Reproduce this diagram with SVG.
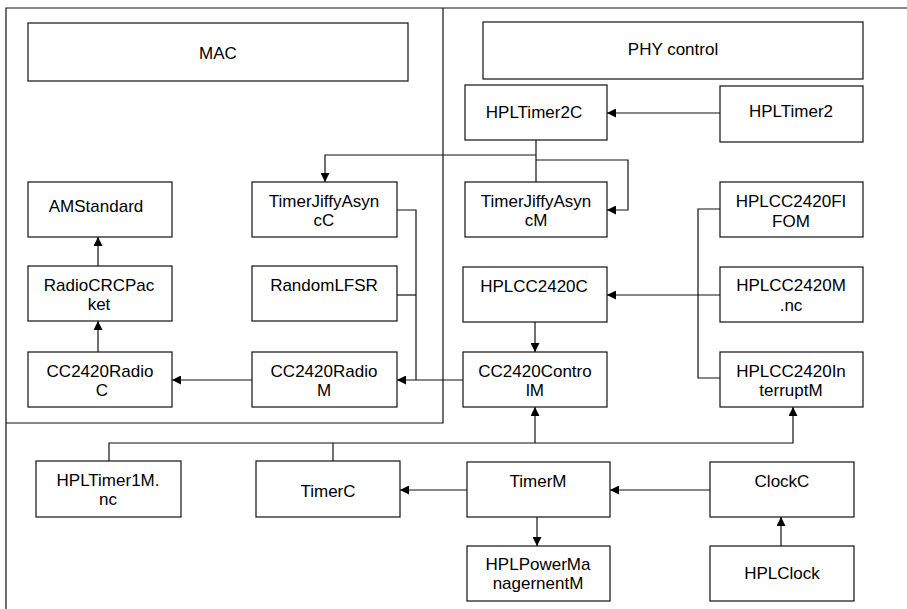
<svg xmlns="http://www.w3.org/2000/svg" width="907" height="609" viewBox="0 0 907 609">
<defs>
<marker id="ah" markerWidth="9" markerHeight="9" refX="9" refY="4.5" orient="auto" markerUnits="userSpaceOnUse">
<path d="M0,0 L9,4.5 L0,9 Z" fill="#000"/>
</marker>
<style>
.b{fill:#fff;stroke:#111;stroke-width:1.2}
.t{font-family:"Liberation Sans",Arial,sans-serif;font-size:17px;fill:#000;text-anchor:middle}
.c{fill:none;stroke:#111;stroke-width:1.2}
.a{fill:none;stroke:#111;stroke-width:1.2;marker-end:url(#ah)}
.f{fill:none;stroke:#111;stroke-width:1.2}
</style>
</defs>
<rect width="907" height="609" fill="#fff"/>
<g id="frames">
<path class="f" d="M6,609 V8 H907"/>
<path class="f" d="M6,423 H443 V8"/>
</g>
<g id="connectors">
<path class="a" d="M720,113 H607"/>
<path class="c" d="M536,140 V182"/>
<path class="a" d="M536,155 H325 V182"/>
<path class="a" d="M536,160 H628 V210 H607"/>
<path class="c" d="M720,209 H698 V378 H720"/>
<path class="a" d="M720,295 H607"/>
<path class="a" d="M535,322 V352"/>
<path class="c" d="M397,210 H416 V380"/>
<path class="c" d="M397,295 H416"/>
<path class="a" d="M463,380 H397"/>
<path class="a" d="M252,380 H172"/>
<path class="a" d="M98,352 V321"/>
<path class="a" d="M98,266 V237"/>
<path class="a" d="M109,461 V443 H793 V407"/>
<path class="c" d="M333,461 V443"/>
<path class="a" d="M535,443 V407"/>
<path class="a" d="M467,490 H400"/>
<path class="a" d="M710,490 H610"/>
<path class="a" d="M537,517 V546"/>
<path class="a" d="M781,546 V517"/>
</g>
<g id="mac"><rect class="b" x="28" y="23" width="380" height="58"/><text class="t" x="218" y="59">MAC</text></g>
<g id="phy"><rect class="b" x="483" y="22" width="380" height="57"/><text class="t" x="673" y="55">PHY control</text></g>
<g id="hpltimer2c"><rect class="b" x="465" y="85" width="142" height="55"/><text class="t" x="534" y="118">HPLTimer2C</text></g>
<g id="hpltimer2"><rect class="b" x="720" y="86" width="143" height="56"/><text class="t" x="791" y="117">HPLTimer2</text></g>
<g id="tjac"><rect class="b" x="252" y="182" width="145" height="55"/><text class="t" x="324" y="207">TimerJiffyAsyn</text><text class="t" x="324" y="226">cC</text></g>
<g id="tjam"><rect class="b" x="465" y="182" width="142" height="55"/><text class="t" x="536" y="207">TimerJiffyAsyn</text><text class="t" x="536" y="226">cM</text></g>
<g id="fifom"><rect class="b" x="720" y="182" width="143" height="55"/><text class="t" x="791" y="207">HPLCC2420FI</text><text class="t" x="791" y="227">FOM</text></g>
<g id="amstandard"><rect class="b" x="28" y="182" width="144" height="55"/><text class="t" x="96" y="212">AMStandard</text></g>
<g id="radiocrc"><rect class="b" x="28" y="266" width="144" height="55"/><text class="t" x="99" y="291">RadioCRCPac</text><text class="t" x="99" y="310">ket</text></g>
<g id="randomlfsr"><rect class="b" x="252" y="266" width="145" height="55"/><text class="t" x="324" y="291">RandomLFSR</text></g>
<g id="hplcc2420c"><rect class="b" x="463" y="267" width="144" height="55"/><text class="t" x="534" y="292">HPLCC2420C</text></g>
<g id="hplcc2420m"><rect class="b" x="720" y="267" width="143" height="55"/><text class="t" x="791" y="291">HPLCC2420M</text><text class="t" x="791" y="311">.nc</text></g>
<g id="cc2420radioc"><rect class="b" x="28" y="352" width="144" height="55"/><text class="t" x="100" y="377">CC2420Radio</text><text class="t" x="102" y="396">C</text></g>
<g id="cc2420radiom"><rect class="b" x="252" y="352" width="145" height="55"/><text class="t" x="324" y="377">CC2420Radio</text><text class="t" x="324" y="396">M</text></g>
<g id="cc2420controlm"><rect class="b" x="463" y="352" width="144" height="55"/><text class="t" x="535" y="377">CC2420Contro</text><text class="t" x="535" y="396">lM</text></g>
<g id="interruptm"><rect class="b" x="720" y="352" width="143" height="55"/><text class="t" x="791" y="377">HPLCC2420In</text><text class="t" x="791" y="396">terruptM</text></g>
<g id="hpltimer1m"><rect class="b" x="36" y="461" width="145" height="56"/><text class="t" x="108" y="486">HPLTimer1M.</text><text class="t" x="108" y="505">nc</text></g>
<g id="timerc"><rect class="b" x="256" y="461" width="144" height="56"/><text class="t" x="328" y="497">TimerC</text></g>
<g id="timerm"><rect class="b" x="467" y="462" width="143" height="55"/><text class="t" x="538" y="487">TimerM</text></g>
<g id="clockc"><rect class="b" x="710" y="462" width="144" height="55"/><text class="t" x="782" y="487">ClockC</text></g>
<g id="hplpower"><rect class="b" x="467" y="546" width="143" height="55"/><text class="t" x="538" y="570">HPLPowerMa</text><text class="t" x="538" y="589">nagernentM</text></g>
<g id="hplclock"><rect class="b" x="710" y="546" width="144" height="55"/><text class="t" x="782" y="579">HPLClock</text></g>
</svg>
